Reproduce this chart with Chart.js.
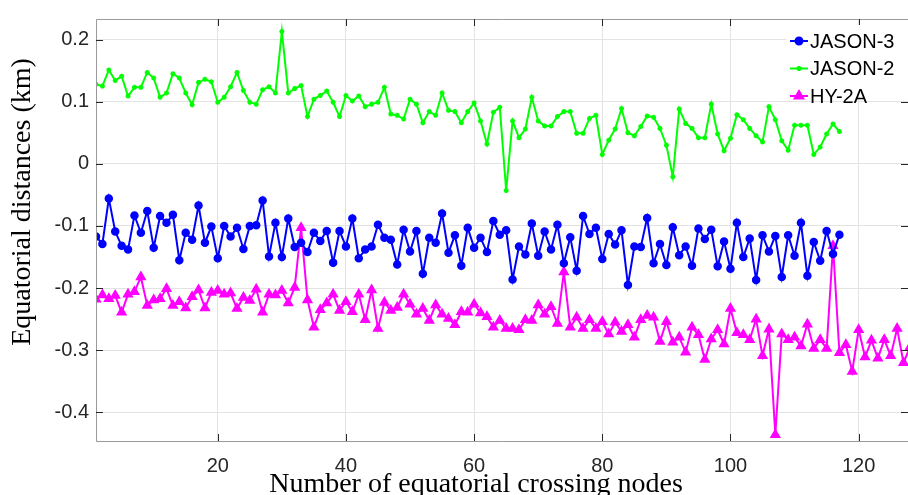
<!DOCTYPE html>
<html>
<head>
<meta charset="utf-8">
<script src="https://cdn.jsdelivr.net/npm/chart.js@4/dist/chart.umd.min.js"></script>
<style>
  html, body { margin: 0; padding: 0; background: #fff; }
  #wrap { width: 908px; height: 495px; overflow: hidden; }
</style>
</head>
<body>
<div id="wrap"><canvas id="graphique" width="908" height="495"></canvas></div>
<script>
// equatorial distance per crossing node (km)
var jason3 = [
  -0.117, -0.129, -0.056, -0.109, -0.132, -0.138, -0.083, -0.111, -0.076, -0.135,
  -0.084, -0.095, -0.082, -0.155, -0.111, -0.122, -0.067, -0.127, -0.101, -0.152,
  -0.100, -0.117, -0.103, -0.137, -0.100, -0.099, -0.059, -0.149, -0.095, -0.150,
  -0.088, -0.134, -0.127, -0.142, -0.111, -0.124, -0.108, -0.159, -0.108, -0.133,
  -0.088, -0.152, -0.138, -0.133, -0.098, -0.119, -0.122, -0.162, -0.106, -0.141,
  -0.108, -0.177, -0.119, -0.127, -0.080, -0.143, -0.115, -0.164, -0.103, -0.135,
  -0.119, -0.142, -0.092, -0.114, -0.107, -0.186, -0.133, -0.146, -0.096, -0.148,
  -0.109, -0.138, -0.098, -0.160, -0.118, -0.172, -0.084, -0.113, -0.103, -0.153,
  -0.113, -0.130, -0.107, -0.195, -0.133, -0.134, -0.087, -0.160, -0.129, -0.163,
  -0.102, -0.147, -0.133, -0.164, -0.104, -0.121, -0.106, -0.165, -0.125, -0.169,
  -0.095, -0.150, -0.120, -0.187, -0.115, -0.141, -0.116, -0.182, -0.115, -0.148,
  -0.095, -0.180, -0.126, -0.156, -0.108, -0.145, -0.114
];
var jason2 = [
  0.128, 0.125, 0.151, 0.134, 0.141, 0.109, 0.123, 0.123, 0.147, 0.138,
  0.107, 0.114, 0.145, 0.138, 0.114, 0.095, 0.131, 0.136, 0.132, 0.099,
  0.107, 0.124, 0.147, 0.118, 0.099, 0.096, 0.119, 0.124, 0.114, 0.213,
  0.114, 0.121, 0.126, 0.076, 0.104, 0.110, 0.117, 0.099, 0.076, 0.110,
  0.101, 0.109, 0.092, 0.096, 0.099, 0.123, 0.080, 0.078, 0.072, 0.104,
  0.096, 0.066, 0.084, 0.078, 0.114, 0.086, 0.084, 0.066, 0.084, 0.098,
  0.069, 0.032, 0.083, 0.091, -0.043, 0.069, 0.042, 0.056, 0.107, 0.069,
  0.061, 0.061, 0.076, 0.084, 0.084, 0.049, 0.049, 0.073, 0.078, 0.015,
  0.038, 0.056, 0.089, 0.050, 0.045, 0.060, 0.077, 0.075, 0.057, 0.030,
  -0.021, 0.088, 0.065, 0.057, 0.042, 0.042, 0.096, 0.048, 0.021, 0.041,
  0.079, 0.071, 0.057, 0.045, 0.035, 0.092, 0.071, 0.037, 0.022, 0.062,
  0.062, 0.062, 0.015, 0.027, 0.048, 0.064, 0.052
];
var hy2a = [
  -0.218, -0.211, -0.217, -0.212, -0.239, -0.210, -0.206, -0.182, -0.228, -0.219,
  -0.217, -0.201, -0.228, -0.222, -0.232, -0.214, -0.203, -0.232, -0.207, -0.204,
  -0.210, -0.208, -0.233, -0.215, -0.220, -0.202, -0.239, -0.210, -0.211, -0.204,
  -0.224, -0.199, -0.103, -0.219, -0.263, -0.235, -0.224, -0.210, -0.236, -0.222,
  -0.238, -0.210, -0.251, -0.203, -0.265, -0.223, -0.236, -0.231, -0.210, -0.226,
  -0.242, -0.233, -0.252, -0.227, -0.242, -0.249, -0.259, -0.238, -0.239, -0.226,
  -0.240, -0.246, -0.263, -0.252, -0.265, -0.265, -0.267, -0.251, -0.252, -0.227,
  -0.242, -0.230, -0.257, -0.174, -0.263, -0.247, -0.265, -0.251, -0.265, -0.254,
  -0.274, -0.255, -0.270, -0.259, -0.279, -0.251, -0.244, -0.247, -0.286, -0.254,
  -0.287, -0.279, -0.303, -0.263, -0.275, -0.315, -0.282, -0.267, -0.290, -0.233,
  -0.272, -0.275, -0.283, -0.250, -0.309, -0.266, -0.436, -0.274, -0.283, -0.279,
  -0.293, -0.258, -0.297, -0.283, -0.297, -0.132, -0.304, -0.291, -0.334, -0.267,
  -0.311, -0.284, -0.313, -0.283, -0.309, -0.265, -0.320, -0.295
];
var seriesNames = ['JASON-3', 'JASON-2', 'HY-2A'];
var xTicks = [20, 40, 60, 80, 100, 120];
var yTicks = [-0.4, -0.3, -0.2, -0.1, 0, 0.1, 0.2];
var yTickLabels = ['-0.4', '-0.3', '-0.2', '-0.1', '0', '0.1', '0.2'];

function enPoints(valeurs) {
  return valeurs.map(function(v, i) { return { x: i + 1, y: v }; });
}

var couleurs = ['#0000ff', '#00ff00', '#ff00ff'];
var styles = [
  { pointStyle: 'circle', radius: 3.5 },
  { pointStyle: 'star', radius: 2.5 },
  { pointStyle: 'triangle', radius: 5 }
];

var SANS = '"Liberation Sans", Arial, sans-serif';
var SERIF = '"Liberation Serif", "Times New Roman", serif';

// axes MATLAB : cadre, graduations vers l'intérieur, titres, légende
var habillage = {
  id: 'habillage',
  afterDatasetsDraw: function(chart) {
    var ctx = chart.ctx;
    var a = chart.chartArea;
    var sx = chart.scales.x, sy = chart.scales.y;
    ctx.save();
    ctx.strokeStyle = '#9a9a9a';
    ctx.lineWidth = 1;
    ctx.beginPath();
    ctx.moveTo(a.left + 0.5, a.bottom + 0.5);
    ctx.lineTo(a.left + 0.5, a.top + 0.5);
    ctx.lineTo(a.right + 0.5, a.top + 0.5);
    ctx.moveTo(a.left + 0.5, a.bottom + 0.5);
    ctx.lineTo(a.right, a.bottom + 0.5);
    ctx.stroke();

    ctx.strokeStyle = '#262626';
    ctx.beginPath();
    xTicks.forEach(function(v) {
      var px = Math.round(sx.getPixelForValue(v)) + 0.5;
      ctx.moveTo(px, a.bottom); ctx.lineTo(px, a.bottom - 7);
      ctx.moveTo(px, a.top); ctx.lineTo(px, a.top + 7);
    });
    yTicks.forEach(function(v) {
      var py = Math.round(sy.getPixelForValue(v)) + 0.5;
      ctx.moveTo(a.left, py); ctx.lineTo(a.left + 7, py);
      ctx.moveTo(a.right, py); ctx.lineTo(a.right - 7, py);
    });
    ctx.stroke();

    // légende
    ctx.fillStyle = '#ffffff';
    ctx.fillRect(786, 25, 122, 73);
    ctx.font = '20px ' + SANS;
    ctx.textBaseline = 'middle';
    ctx.textAlign = 'left';
    [41, 68.5, 96].forEach(function(yy, k) {
      ctx.strokeStyle = couleurs[k];
      ctx.lineWidth = 2;
      ctx.beginPath();
      ctx.moveTo(790, yy); ctx.lineTo(808, yy);
      ctx.stroke();
      Chart.helpers.drawPoint(ctx, {
        pointStyle: styles[k].pointStyle, radius: styles[k].radius, rotation: 0, borderWidth: 1.5
      }, 799, yy);
      ctx.fillStyle = couleurs[k];
      ctx.fill();
      ctx.fillStyle = '#000000';
      ctx.fillText(seriesNames[k], 810, yy + 1);
    });

    // titres des axes
    ctx.fillStyle = '#000000';
    ctx.font = '28px ' + SERIF;
    ctx.textAlign = 'center';
    ctx.textBaseline = 'alphabetic';
    ctx.fillText('Number of equatorial crossing nodes', 476, 492);
    ctx.translate(30, 202);
    ctx.rotate(-Math.PI / 2);
    ctx.fillText('Equatorial distances (km)', 0, 0);
    ctx.restore();
  }
};

var donnees = [jason3, jason2, hy2a];
var ctx = document.getElementById('graphique').getContext('2d');
var chart = new Chart(ctx, {
  type: 'line',
  data: {
    datasets: donnees.map(function(valeurs, k) {
      return {
        label: seriesNames[k],
        data: enPoints(valeurs),
        borderColor: couleurs[k],
        backgroundColor: couleurs[k],
        borderWidth: 2,
        pointStyle: styles[k].pointStyle,
        pointRadius: styles[k].radius,
        pointBorderWidth: 1.5,
        tension: 0
      };
    })
  },
  options: {
    responsive: false,
    animation: false,
    devicePixelRatio: 1,
    layout: { autoPadding: false, padding: { top: 17, right: 0, left: 0, bottom: 0 } },
    plugins: { legend: { display: false }, tooltip: { enabled: false } },
    scales: {
      x: {
        type: 'linear',
        min: 1,
        max: 127.7,
        afterBuildTicks: function(scale) {
          scale.ticks = xTicks.map(function(v) { return { value: v }; });
        },
        afterFit: function(scale) { scale.height = 54; },
        grid: { color: '#e3e3e3', drawTicks: false },
        border: { display: false },
        ticks: {
          padding: 13,
          color: '#262626',
          font: { family: SANS, size: 20 },
          maxRotation: 0,
          callback: function(value) { return String(value); }
        }
      },
      y: {
        min: -0.446,
        max: 0.233,
        afterBuildTicks: function(scale) {
          scale.ticks = yTicks.map(function(v) { return { value: v }; });
        },
        afterFit: function(scale) { scale.width = 96; },
        grid: { color: '#e3e3e3', drawTicks: false },
        border: { display: false },
        ticks: {
          padding: 7,
          color: '#262626',
          font: { family: SANS, size: 20 },
          callback: function(value) {
            var i = yTicks.findIndex(function(t) { return Math.abs(t - value) < 1e-9; });
            return i >= 0 ? yTickLabels[i] : '';
          }
        }
      }
    }
  },
  plugins: [habillage]
});
</script>
</body>
</html>
